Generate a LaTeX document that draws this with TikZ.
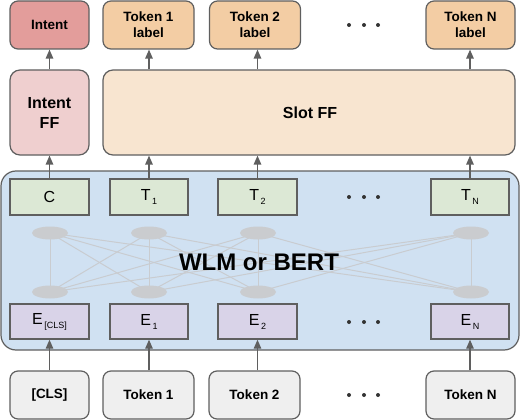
\documentclass[tikz,border=0pt]{standalone}
\usepackage{fontspec}
\setmainfont{Liberation Sans}
\usetikzlibrary{arrows.meta,shapes.geometric}
\definecolor{intentc}{HTML}{E39D9B}
\definecolor{labelc}{HTML}{F3CDA4}
\definecolor{intentffc}{HTML}{EFCFCF}
\definecolor{slotffc}{HTML}{F8E5D0}
\definecolor{bluec}{HTML}{D0E1F2}
\definecolor{greenc}{HTML}{DCE8D5}
\definecolor{purplec}{HTML}{D9D3E8}
\definecolor{grayc}{HTML}{EFEFEF}
\definecolor{edgec}{HTML}{5F5F5F}
\definecolor{arrowc}{HTML}{5F5F5F}
\definecolor{ellc}{HTML}{CACCCF}
\definecolor{netc}{HTML}{C9CCD0}
\newcommand{\sub}[1]{\kern1.5pt\raisebox{-4pt}{\fontsize{9}{9}\selectfont #1}}
\tikzset{
  rbox/.style={draw=edgec, line width=1.2pt, rounded corners=8pt, align=center, inner sep=0pt,
    font=\fontsize{13.5}{16}\selectfont\bfseries},
  ffbox/.style={draw=edgec, line width=1.2pt, rounded corners=10pt, align=center, inner sep=0pt,
    font=\fontsize{16}{20}\selectfont\bfseries},
  sbox/.style={draw=edgec, line width=1.4pt, inner sep=0pt, minimum height=36pt,
    font=\fontsize{16}{16}\selectfont},
  arr/.style={draw=arrowc, line width=1.3pt, -{Triangle[length=9pt,width=7.5pt]}},
  dotc/.style={circle, fill=black!80, inner sep=0pt, minimum size=4pt},
  ell/.style={ellipse, fill=ellc, inner sep=0pt, minimum width=36pt, minimum height=13pt},
  net/.style={draw=netc, line width=1pt}
}
\begin{document}
\begin{tikzpicture}[x=1pt,y=-1pt]
\useasboundingbox (0,0) rectangle (520,420);
% top labels
\node[rbox, fill=intentc, minimum width=79pt, minimum height=48pt] (intent) at (49.5,25) {Intent};
\node[rbox, fill=labelc, minimum width=91pt, minimum height=48pt] (lab1) at (148.5,25) {Token 1\\label};
\node[rbox, fill=labelc, minimum width=91pt, minimum height=48pt] (lab2) at (255,25) {Token 2\\label};
\node[rbox, fill=labelc, minimum width=89pt, minimum height=48pt] (labN) at (470.5,25) {Token N\\label};
% FF layers
\node[ffbox, fill=intentffc, minimum width=79pt, minimum height=85pt] (intentff) at (49.5,112.5) {Intent\\FF};
\node[ffbox, fill=slotffc, minimum width=412pt, minimum height=85pt] (slotff) at (309,112.5) {};
\node[font=\fontsize{16}{20}\selectfont\bfseries] (slotlbl) at (310,113) {Slot FF};
% encoder box
\node[draw=edgec, line width=1.2pt, fill=bluec, rounded corners=15pt, minimum width=518pt, minimum height=179pt] (enc) at (260,260.5) {};
% network
\coordinate (u1) at (50,233); \coordinate (u2) at (149,233); \coordinate (u3) at (258,233); \coordinate (u4) at (471,233);
\coordinate (d1) at (50,292); \coordinate (d2) at (149,292); \coordinate (d3) at (258,292); \coordinate (d4) at (471,292);
\foreach \i in {1,2,3,4}{\foreach \j in {1,2,3,4}{\draw[net] (u\i) -- (d\j);}}
\foreach \i in {1,2,3,4}{\node[ell] (eu\i) at (u\i) {}; \node[ell] (ed\i) at (d\i) {};}
\node[font=\fontsize{24}{24}\selectfont\bfseries] (wlm) at (259,262) {WLM or BERT};
% T row
\node[sbox, fill=greenc, minimum width=79pt] (c) at (49.5,197) {C};
\node[sbox, fill=greenc, minimum width=78pt] (t1) at (149,197) {T\sub{1}};
\node[sbox, fill=greenc, minimum width=79pt] (t2) at (257.5,197) {T\sub{2}};
\node[sbox, fill=greenc, minimum width=78pt] (tN) at (470,197) {T\sub{N}};
% E row
\node[sbox, fill=purplec, minimum width=79pt, minimum height=35pt] (ecls) at (49.5,321.5) {E\sub{[CLS]}};
\node[sbox, fill=purplec, minimum width=78pt, minimum height=35pt] (e1) at (149,321.5) {E\sub{1}};
\node[sbox, fill=purplec, minimum width=79pt, minimum height=35pt] (e2) at (257.5,321.5) {E\sub{2}};
\node[sbox, fill=purplec, minimum width=78pt, minimum height=35pt] (eN) at (470,321.5) {E\sub{N}};
% inputs
\node[rbox, fill=grayc, minimum width=79pt, minimum height=48pt] (cls) at (49.5,395) {[CLS]};
\node[rbox, fill=grayc, minimum width=91pt, minimum height=48pt] (tok1) at (148.5,395) {Token 1};
\node[rbox, fill=grayc, minimum width=91pt, minimum height=48pt] (tok2) at (254.5,395) {Token 2};
\node[rbox, fill=grayc, minimum width=89pt, minimum height=48pt] (tokN) at (470.5,395) {Token N};
% dots
\foreach \y/\n in {25/a,197/b,322/c,395/d}{
  \node[dotc] (\n1) at (349,\y) {}; \node[dotc] (\n2) at (364,\y) {}; \node[dotc] (\n3) at (378,\y) {};
}
% arrows
\draw[arr] (cls.north -| ecls.south) -- (ecls.south);
\draw[arr] (tok1.north -| e1.south) -- (e1.south);
\draw[arr] (tok2.north -| e2.south) -- (e2.south);
\draw[arr] (tokN.north -| eN.south) -- (eN.south);
\draw[arr] (c.north) -- (c.north |- intentff.south);
\draw[arr] (t1.north) -- (t1.north |- slotff.south);
\draw[arr] (t2.north) -- (t2.north |- slotff.south);
\draw[arr] (tN.north) -- (tN.north |- slotff.south);
\draw[arr] (intentff.north) -- (intentff.north |- intent.south);
\draw[arr] (t1.north |- slotff.north) -- (t1.north |- lab1.south);
\draw[arr] (t2.north |- slotff.north) -- (t2.north |- lab2.south);
\draw[arr] (tN.north |- slotff.north) -- (tN.north |- labN.south);
\end{tikzpicture}
\end{document}
